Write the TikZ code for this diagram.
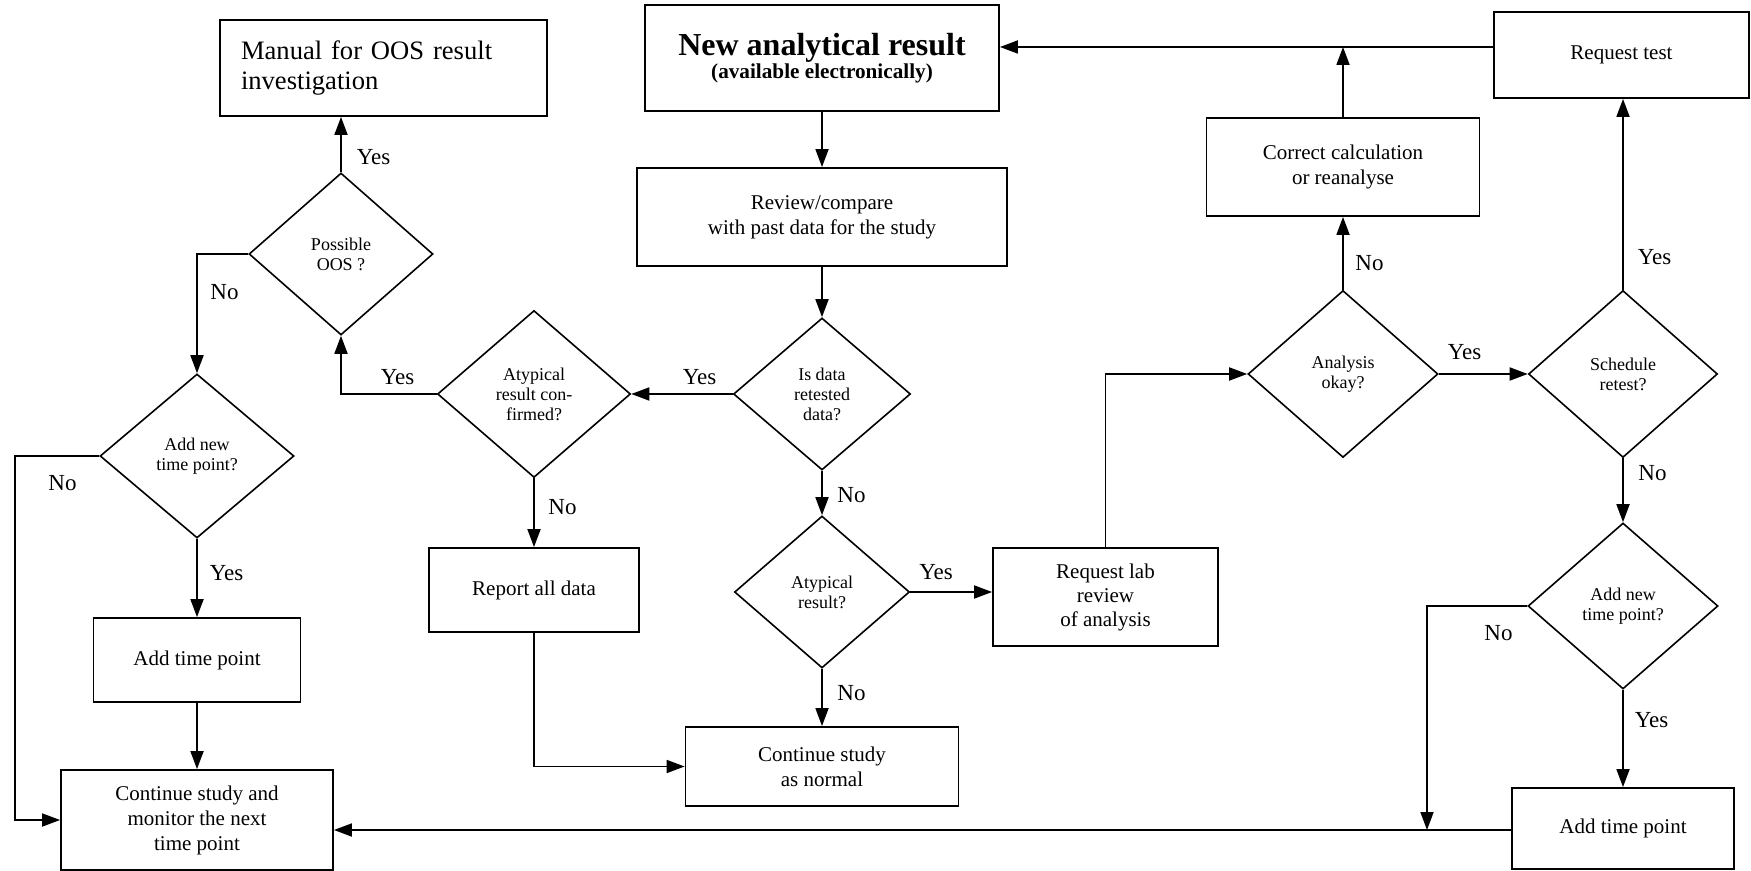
\documentclass[tikz,border=0pt]{standalone}
\usepackage{fontspec}
\setmainfont{Liberation Serif}
\usetikzlibrary{arrows.meta,shapes.geometric}
\begin{document}
\begin{tikzpicture}[x=0.5pt,y=-0.5pt,
  box/.style={draw, line width=0.9pt, rectangle, inner sep=0pt, align=center, font=\fontsize{10.5}{12.5}\selectfont},
  dia/.style={draw, line width=0.8pt, diamond, inner sep=0pt, align=center, font=\fontsize{9}{10}\selectfont},
  lbl/.style={inner sep=0pt, font=\fontsize{11.5}{13}\selectfont},
  arr/.style={line width=0.9pt, -{Triangle[length=9pt,width=6.5pt]}}]
\useasboundingbox (0,0) rectangle (1751,871);
% boxes
\node[box, minimum width=163.5pt, minimum height=48pt, align=left, text width=142.5pt, font=\fontsize{13.3}{15}\selectfont] (manual) at (383.5,68) {Manual for OOS result\\investigation};
\node[box, minimum width=177pt, minimum height=53pt] (newres) at (822,58) {{\fontsize{16}{18}\selectfont\bfseries New analytical result}\\[-1pt]{\fontsize{10.6}{13}\selectfont\bfseries (available electronically)}};
\node[box, minimum width=185pt, minimum height=49pt] (review) at (822,217) {Review/compare\\with past data for the study};
\node[box, minimum width=127.5pt, minimum height=43pt] (reqtest) at (1621.5,55) {Request test};
\node[box, minimum width=136.5pt, minimum height=49pt] (correct) at (1343,167) {Correct calculation\\or reanalyse};
\node[box, minimum width=105pt, minimum height=42pt] (report) at (534,590) {Report all data};
\node[box, minimum width=112.5pt, minimum height=49pt, font=\fontsize{10.5}{12}\selectfont] (reqlab) at (1105.5,597) {Request lab\\review\\of analysis};
\node[box, minimum width=103.5pt, minimum height=42pt] (addtpa) at (197,660) {Add time point};
\node[box, minimum width=136pt, minimum height=50pt] (contmon) at (197,820) {Continue study and\\monitor the next\\time point};
\node[box, minimum width=136.5pt, minimum height=39.5pt] (contnorm) at (822,766.5) {Continue study\\as normal};
\node[box, minimum width=111pt, minimum height=40.5pt] (addtpb) at (1623,828.5) {Add time point};
% diamonds
\node[dia, minimum width=92pt, minimum height=81pt] (possoos) at (341,254) {Possible\\OOS ?};
\node[dia, minimum width=96.5pt, minimum height=83.5pt] (atypconf) at (534,394) {Atypical\\result con-\\firmed?};
\node[dia, minimum width=88.5pt, minimum height=76pt] (isdata) at (822,394) {Is data\\retested\\data?};
\node[dia, minimum width=97pt, minimum height=82pt] (addnewa) at (197,456) {Add new\\time point?};
\node[dia, minimum width=87.5pt, minimum height=76pt] (atypres) at (822,592) {Atypical\\result?};
\node[dia, minimum width=95pt, minimum height=83.5pt] (anaok) at (1343,374) {Analysis\\okay?};
\node[dia, minimum width=94.5pt, minimum height=83.5pt] (schedret) at (1623,374) {Schedule\\retest?};
\node[dia, minimum width=95pt, minimum height=83pt] (addnewb) at (1623,606) {Add new\\time point?};
% helper coordinates
\coordinate (ytop) at (0,47);
\coordinate (ybot) at (0,830);
\coordinate (leftx) at (15,0);
\coordinate (join) at (1427,830);
% connectors
\draw[arr] (reqtest.west |- ytop) -- (newres.east |- ytop);
\draw[arr] (correct.north) -- (correct.north |- ytop);
\draw[arr] (newres.south) -- (review.north);
\draw[arr] (review.south) -- (isdata.north);
\draw[arr] (isdata.west) -- (atypconf.east);
\draw[arr] (atypconf.west) -| (possoos.south);
\draw[arr] (possoos.north) -- (possoos.north |- manual.south);
\draw[arr] (possoos.west) -| (addnewa.north);
\draw[arr] (addnewa.west) -- (leftx |- addnewa.west) |- (contmon.west);
\draw[arr] (addnewa.south) -- (addtpa.north);
\draw[arr] (addtpa.south) -- (contmon.north);
\draw[arr] (atypconf.south) -- (report.north);
\draw[arr] (report.south) |- (contnorm.west);
\draw[arr] (isdata.south) -- (atypres.north);
\draw[arr] (atypres.south) -- (contnorm.north);
\draw[arr] (atypres.east) -- (atypres.east -| reqlab.west);
\draw[arr] (reqlab.north) |- (anaok.west);
\draw[arr] (anaok.north) -- (correct.south);
\draw[arr] (anaok.east) -- (schedret.west);
\draw[arr] (schedret.north) -- (schedret.north |- reqtest.south);
\draw[arr] (schedret.south) -- (addnewb.north);
\draw[arr] (addnewb.south) -- (addtpb.north);
\draw[arr] (addnewb.west) -| (join);
\draw[arr] (addtpb.west |- ybot) -- (contmon.east |- ybot);
% labels
\node[lbl] (l1) at (373.5,157) {Yes};
\node[lbl] (l2) at (224.5,292) {No};
\node[lbl] (l3) at (397.5,377) {Yes};
\node[lbl] (l4) at (699.5,377) {Yes};
\node[lbl] (l5) at (62.5,483) {No};
\node[lbl] (l6) at (226.5,573) {Yes};
\node[lbl] (l7) at (562.5,507) {No};
\node[lbl] (l8) at (851.5,495) {No};
\node[lbl] (l9) at (936,572) {Yes};
\node[lbl] (l10) at (851.5,693) {No};
\node[lbl] (l11) at (1369.5,263) {No};
\node[lbl] (l12) at (1464.5,352) {Yes};
\node[lbl] (l13) at (1654.5,257) {Yes};
\node[lbl] (l14) at (1652.5,473) {No};
\node[lbl] (l15) at (1498.5,633) {No};
\node[lbl] (l16) at (1651.5,720) {Yes};
\end{tikzpicture}
\end{document}
